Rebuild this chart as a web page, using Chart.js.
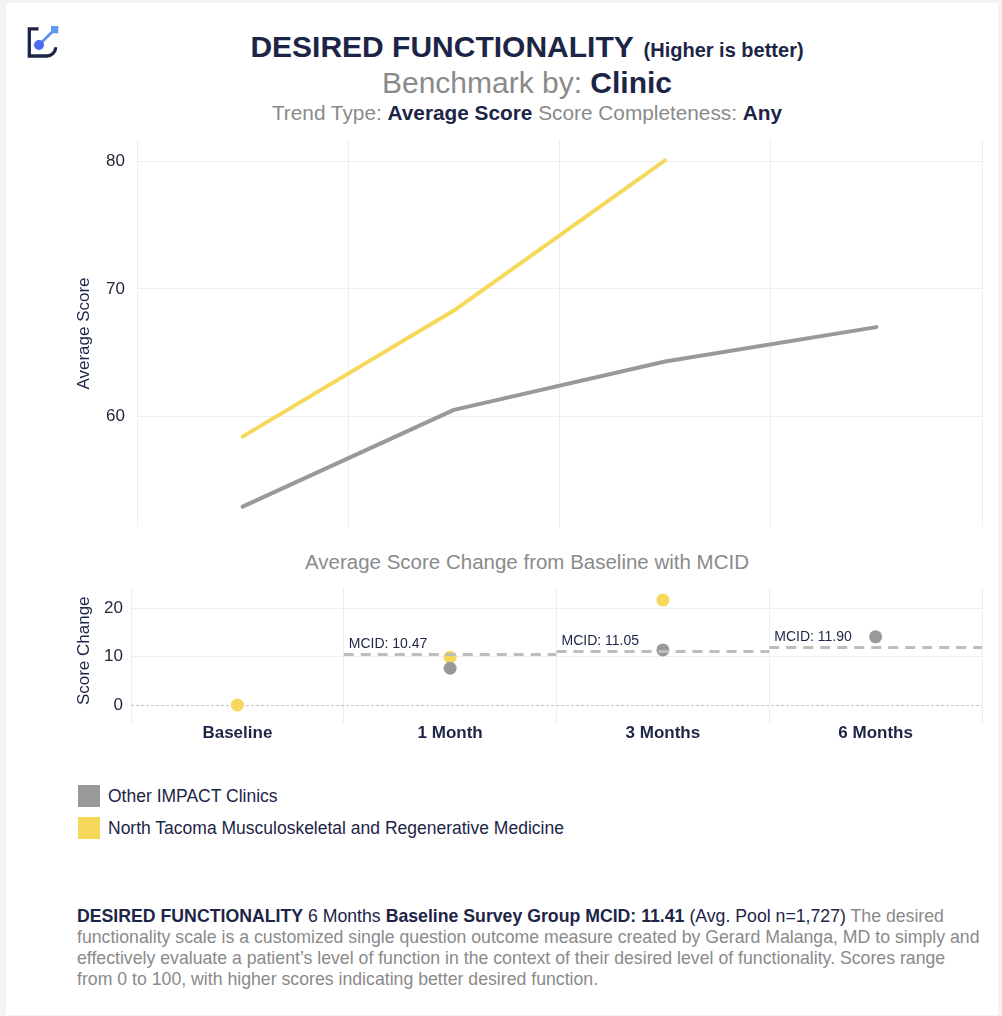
<!DOCTYPE html>
<html>
<head>
<meta charset="utf-8">
<script src="https://cdn.jsdelivr.net/npm/chart.js@4/dist/chart.umd.min.js"></script>
<style>
  html, body { margin:0; padding:0; }
  body { width:1002px; height:1016px; background:#f3f3f3; position:relative; overflow:hidden;
         font-family:'Liberation Sans', Arial, Helvetica, sans-serif; }
  #card { position:absolute; left:6px; top:3px; width:992px; height:1012px; background:#fff; }
  .abs { position:absolute; white-space:nowrap; line-height:1; }
  .ctr { transform:translateX(-50%); }
  .navy { color:#1d2547; }
  .gray { color:#8a8a8a; }
  .b { font-weight:bold; }
  canvas { position:absolute; }
  .sw { position:absolute; width:22px; height:22px; }
</style>
</head>
<body>
<div id="card"></div>
<svg class="abs" style="left:0;top:0" width="80" height="80">
  <path d="M38.5 28.8 H29.3 V56 H47 A8.7 8.7 0 0 0 55.7 47.3" stroke="#1d2547" stroke-width="3.3" fill="none"/>
  <line x1="39" y1="45" x2="53" y2="31" stroke="#5a8cf0" stroke-width="2.6"/>
  <rect x="51" y="26" width="7.3" height="7.3" fill="#5b9cf2"/>
  <circle cx="39" cy="45" r="5" fill="#4a6cf0"/>
</svg>

<div class="abs ctr navy b" style="left:527px; top:31.6px; font-size:30px;">DESIRED FUNCTIONALITY <span style="font-size:20px; margin-left:2px;">(Higher is better)</span></div>
<div class="abs ctr gray" style="left:527px; top:67.6px; font-size:30px;">Benchmark by: <span class="navy b">Clinic</span></div>
<div class="abs ctr gray" style="left:527px; top:103.4px; font-size:20.8px;">Trend Type: <span class="navy b">Average Score</span> Score Completeness: <span class="navy b">Any</span></div>

<canvas id="top" width="1002" height="387" style="left:0; top:140px; width:1002px; height:387px;"></canvas>

<div class="abs ctr gray" style="left:527px; top:551.5px; font-size:20.5px;">Average Score Change from Baseline with MCID</div>

<canvas id="bottom" width="1002" height="165" style="left:0; top:588px; width:1002px; height:165px;"></canvas>

<div class="sw" style="left:78px; top:785px; background:#999999;"></div>
<div class="abs navy" style="left:108px; top:787.5px; font-size:17.5px;">Other IMPACT Clinics</div>
<div class="sw" style="left:78px; top:817px; background:#f6d85a;"></div>
<div class="abs navy" style="left:108px; top:819.5px; font-size:17.5px;">North Tacoma Musculoskeletal and Regenerative Medicine</div>

<div class="abs gray" style="left:77px; top:906px; font-size:17.7px; line-height:21px;">
<span class="navy b">DESIRED FUNCTIONALITY</span> <span class="navy">6 Months</span> <span class="navy b">Baseline Survey Group MCID: 11.41</span> <span class="navy">(Avg. Pool n=1,727)</span> The desired<br>functionality scale is a customized single question outcome measure created by Gerard Malanga, MD to simply and<br>effectively evaluate a patient’s level of function in the context of their desired level of functionality. Scores range<br>from 0 to 100, with higher scores indicating better desired function.
</div>

<script>
// ---------- data ----------
const categories = ['Baseline', '1 Month', '3 Months', '6 Months'];
const seriesNames = ['Other IMPACT Clinics', 'North Tacoma Musculoskeletal and Regenerative Medicine'];
const otherAvg = [52.9, 60.5, 64.3, 67.0];
const clinicAvg = [58.4, 68.3, 80.1, null];
const otherChange = [null, 7.6, 11.4, 14.1];
const clinicChange = [0, 9.9, 21.7, null];
const mcidValues = [null, 10.47, 11.05, 11.90];
const topTicks = [60, 70, 80];
const bottomTicks = [0, 10, 20];

// ---------- styles ----------
const GRAY = '#999999';
const YELLOW = '#f6d85a';
const NAVY = '#1d2547';
const TICK = '#23283a';
const GRID = '#eeeeee';
Chart.defaults.font.family = "'Liberation Sans', Arial, Helvetica, sans-serif";
Chart.defaults.animation = false;

function fixY(w) { return s => { s.width = w; s.paddingTop = 0; s.paddingBottom = 0; }; }
function fixX(h) { return s => { s.height = h; s.paddingLeft = 0; s.paddingRight = 0; }; }

new Chart(document.getElementById('top'), {
  type: 'line',
  data: {
    labels: categories,
    datasets: [
      { label: seriesNames[0], data: otherAvg, borderColor: GRAY, borderWidth: 4, pointRadius: 0,
        borderCapStyle: 'round', borderJoinStyle: 'round', tension: 0 },
      { label: seriesNames[1], data: clinicAvg, borderColor: YELLOW, borderWidth: 4, pointRadius: 0,
        borderCapStyle: 'round', borderJoinStyle: 'round', tension: 0 }
    ]
  },
  options: {
    responsive: false, maintainAspectRatio: false,
    layout: { autoPadding: false, padding: { left: 70, right: 20, top: 0, bottom: 0 } },
    plugins: { legend: { display: false }, tooltip: { enabled: false } },
    scales: {
      x: { type: 'category', offset: true,
           grid: { offset: true, color: GRID, lineWidth: 1, drawTicks: false },
           border: { display: false },
           ticks: { display: false },
           afterFit: fixX(0) },
      y: { min: 51.3, max: 81.7,
           afterBuildTicks: s => { s.ticks = topTicks.map(v => ({ value: v })); },
           grid: { color: GRID, lineWidth: 1, drawTicks: false },
           border: { display: false },
           ticks: { color: TICK, font: { size: 17 }, padding: 12 },
           title: { display: true, text: 'Average Score', color: NAVY, font: { size: 17 } },
           afterFit: fixY(67) }
    }
  }
});

// MCID segments built from mcidValues
const mcidDatasets = [];
mcidValues.forEach((v, i) => {
  if (v === null) return;
  mcidDatasets.push({
    label: 'MCID ' + categories[i], type: 'line', xAxisID: 'xl',
    data: [{ x: i - 0.5, y: v }, { x: i + 0.5, y: v }],
    borderColor: '#bdbdbd', borderWidth: 3, borderDash: [10, 7], pointRadius: 0, order: 0
  });
});

const mcidLabels = {
  id: 'mcidLabels',
  afterDatasetsDraw(chart) {
    const ctx = chart.ctx, xl = chart.scales.xl, y = chart.scales.y;
    ctx.save();
    ctx.font = "14px 'Liberation Sans', Arial, sans-serif";
    ctx.fillStyle = NAVY;
    ctx.textAlign = 'left';
    ctx.textBaseline = 'bottom';
    mcidValues.forEach((v, i) => {
      if (v === null) return;
      ctx.fillText('MCID: ' + v.toFixed(2), xl.getPixelForValue(i - 0.5) + 5, y.getPixelForValue(v) - 3);
    });
    ctx.restore();
  }
};

new Chart(document.getElementById('bottom'), {
  type: 'line',
  data: {
    labels: categories,
    datasets: [
      ...mcidDatasets,
      { label: seriesNames[0], data: otherChange, showLine: false, pointRadius: 6.5,
        pointBackgroundColor: GRAY, pointBorderWidth: 0, borderColor: GRAY, order: 1 },
      { label: seriesNames[1], data: clinicChange, showLine: false, pointRadius: 6.5,
        pointBackgroundColor: YELLOW, pointBorderWidth: 0, borderColor: YELLOW, order: 2 }
    ]
  },
  plugins: [mcidLabels],
  options: {
    responsive: false, maintainAspectRatio: false,
    layout: { autoPadding: false, padding: { left: 70, right: 20, top: 0, bottom: 0 } },
    plugins: { legend: { display: false }, tooltip: { enabled: false } },
    scales: {
      x: { type: 'category', offset: true,
           grid: { offset: true, color: GRID, lineWidth: 1, drawTicks: false },
           border: { display: false },
           ticks: { color: NAVY, font: { size: 17, weight: 'bold' }, padding: 0 },
           afterFit: fixX(30) },
      xl: { type: 'linear', min: -0.5, max: 3.5, display: false },
      y: { min: -3.72, max: 24.2,
           afterBuildTicks: s => { s.ticks = bottomTicks.map(v => ({ value: v })); },
           grid: { color: c => (c.tick && c.tick.value === 0) ? '#c4c4c4' : GRID, lineWidth: 1, drawTicks: false },
           border: { display: false, dash: c => (c.tick && c.tick.value === 0) ? [3, 2] : [] },
           ticks: { color: TICK, font: { size: 17 }, padding: 8 },
           title: { display: true, text: '\u00a0\u00a0Score Change', color: NAVY, font: { size: 17 } },
           afterFit: fixY(61) }
    }
  }
});
</script>
</body>
</html>
